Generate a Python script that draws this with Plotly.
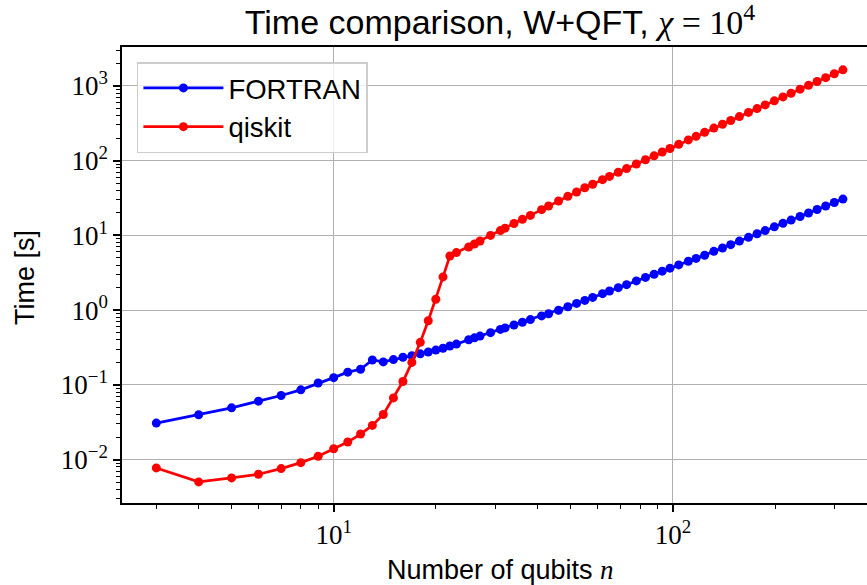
import plotly.graph_objects as go

# number of qubits
n_qubits = [3, 4, 5, 6, 7, 8, 9, 10, 11, 12, 13, 14, 15, 16, 17, 18, 19, 20, 21, 22, 23,
            25, 26, 27, 29, 31, 32, 34, 36, 38, 41, 43, 46, 49, 52, 55, 58, 62, 65, 69, 73,
            78, 83, 88, 93, 98, 104, 111, 117, 124, 132, 140, 148, 157, 167, 177, 187, 199,
            211, 223, 237, 251, 266, 282, 299, 317]

time_fortran = [0.0308, 0.0398, 0.0493, 0.0606, 0.072, 0.0858, 0.106, 0.125, 0.148, 0.162,
                0.215, 0.203, 0.218, 0.234, 0.245, 0.260, 0.275, 0.292, 0.309, 0.331, 0.351,
                0.402, 0.426, 0.450, 0.500, 0.552, 0.579, 0.633, 0.689, 0.748, 0.837, 0.895,
                0.998, 1.11, 1.23, 1.35, 1.48, 1.66, 1.80, 2.00, 2.19, 2.46, 2.74, 3.02, 3.32,
                3.64, 4.03, 4.50, 4.92, 5.43, 6.11, 6.79, 7.52, 8.39, 9.41, 10.5, 11.6, 13.0,
                14.5, 16.0, 17.9, 19.9, 22.2, 24.7, 27.5, 30.6]

time_qiskit = [0.00775, 0.00504, 0.0057, 0.00637, 0.00759, 0.00912, 0.0111, 0.0140, 0.0172,
               0.0220, 0.0287, 0.0402, 0.067, 0.111, 0.200, 0.371, 0.72, 1.40, 2.78, 5.30, 5.88,
               7.00, 7.67, 8.41, 10.0, 11.6, 12.5, 14.4, 16.4, 18.5, 22.1, 24.7, 28.8, 33.3,
               38.0, 43.3, 48.3, 55.6, 61.5, 69.8, 78.3, 90.2, 102.8, 115.9, 130.3, 145.5,
               165.2, 189.2, 211.3, 238.8, 272.3, 306.9, 343.6, 388.1, 441.6, 496.6, 555.9,
               631.0, 711.2, 796.2, 903.6, 1016, 1146, 1288, 1455, 1637]

x_tickvals = [10, 100]
x_ticktext = ["10<sup>1</sup>", "10<sup>2</sup>"]
y_tickvals = [0.01, 0.1, 1, 10, 100, 1000]
y_ticktext = ["10<sup>\u22122</sup>", "10<sup>\u22121</sup>", "10<sup>0</sup>",
              "10<sup>1</sup>", "10<sup>2</sup>", "10<sup>3</sup>"]

x_minor = [m * d for d in (1, 10, 100) for m in range(2, 10) if m * d not in (10, 100)]
y_minor = [m * 10.0 ** e for e in range(-3, 4) for m in range(2, 10)]

SANS = "Liberation Sans"
SERIF = "Liberation Serif"

fig = go.Figure()
fig.add_trace(go.Scatter(x=n_qubits, y=time_fortran, name="FORTRAN", mode="lines+markers",
                         line=dict(color="#0000ff", width=2.7),
                         marker=dict(color="#0000ff", size=9)))
fig.add_trace(go.Scatter(x=n_qubits, y=time_qiskit, name="qiskit", mode="lines+markers",
                         line=dict(color="#ff0000", width=2.7),
                         marker=dict(color="#ff0000", size=9)))

axis_common = dict(
    type="log", showgrid=True, gridcolor="#b0b0b0", gridwidth=1.4,
    showline=True, linecolor="black", linewidth=1.5,
    ticks="outside", ticklen=7, tickwidth=1.5, tickcolor="black",
    zeroline=False, tickfont=dict(family=SERIF, size=27, color="black"),
)

fig.update_xaxes(**axis_common, range=[0.376, 2.572], tickvals=x_tickvals, ticktext=x_ticktext,
                 mirror=True,
                 minor=dict(tickvals=x_minor, ticks="outside", ticklen=4, tickwidth=1.2,
                            tickcolor="black", showgrid=False))
fig.update_yaxes(**axis_common, range=[-2.58, 3.52], tickvals=y_tickvals, ticktext=y_ticktext,
                 minor=dict(tickvals=y_minor, ticks="outside", ticklen=4, tickwidth=1.2,
                            tickcolor="black", showgrid=False))

fig.update_layout(
    width=867, height=585,
    margin=dict(l=122, r=0, t=47, b=82),
    plot_bgcolor="white", paper_bgcolor="white",
    font=dict(family=SANS, size=27, color="black"),
    title=dict(text="Time comparison, W+QFT, <span style='font-family:Liberation Serif'><i>\u03c7</i> = 10<sup>4</sup></span>",
               xref="container", x=500 / 867, xanchor="center",
               yref="container", y=1 - 22 / 585, yanchor="middle",
               font=dict(family=SANS, size=34, color="black")),
    legend=dict(x=0.02, y=0.967, xanchor="left", yanchor="top",
                bgcolor="rgba(255,255,255,0.8)", bordercolor="#cccccc", borderwidth=1.5,
                font=dict(family=SANS, size=27.5, color="black"), itemwidth=80),
    annotations=[
        dict(text="Number of qubits <span style='font-family:Liberation Serif'><i>n</i></span>",
             xref="paper", yref="paper", x=(500 - 122) / 745, y=(503 - 570) / 456,
             xanchor="center", yanchor="middle", showarrow=False,
             font=dict(family=SANS, size=27, color="black")),
        dict(text="Time [s]", xref="paper", yref="paper", x=(25 - 122) / 745, y=(503 - 278) / 456,
             xanchor="center", yanchor="middle", showarrow=False, textangle=-90,
             font=dict(family=SANS, size=27, color="black")),
    ],
)

fig.write_html("out.html")
